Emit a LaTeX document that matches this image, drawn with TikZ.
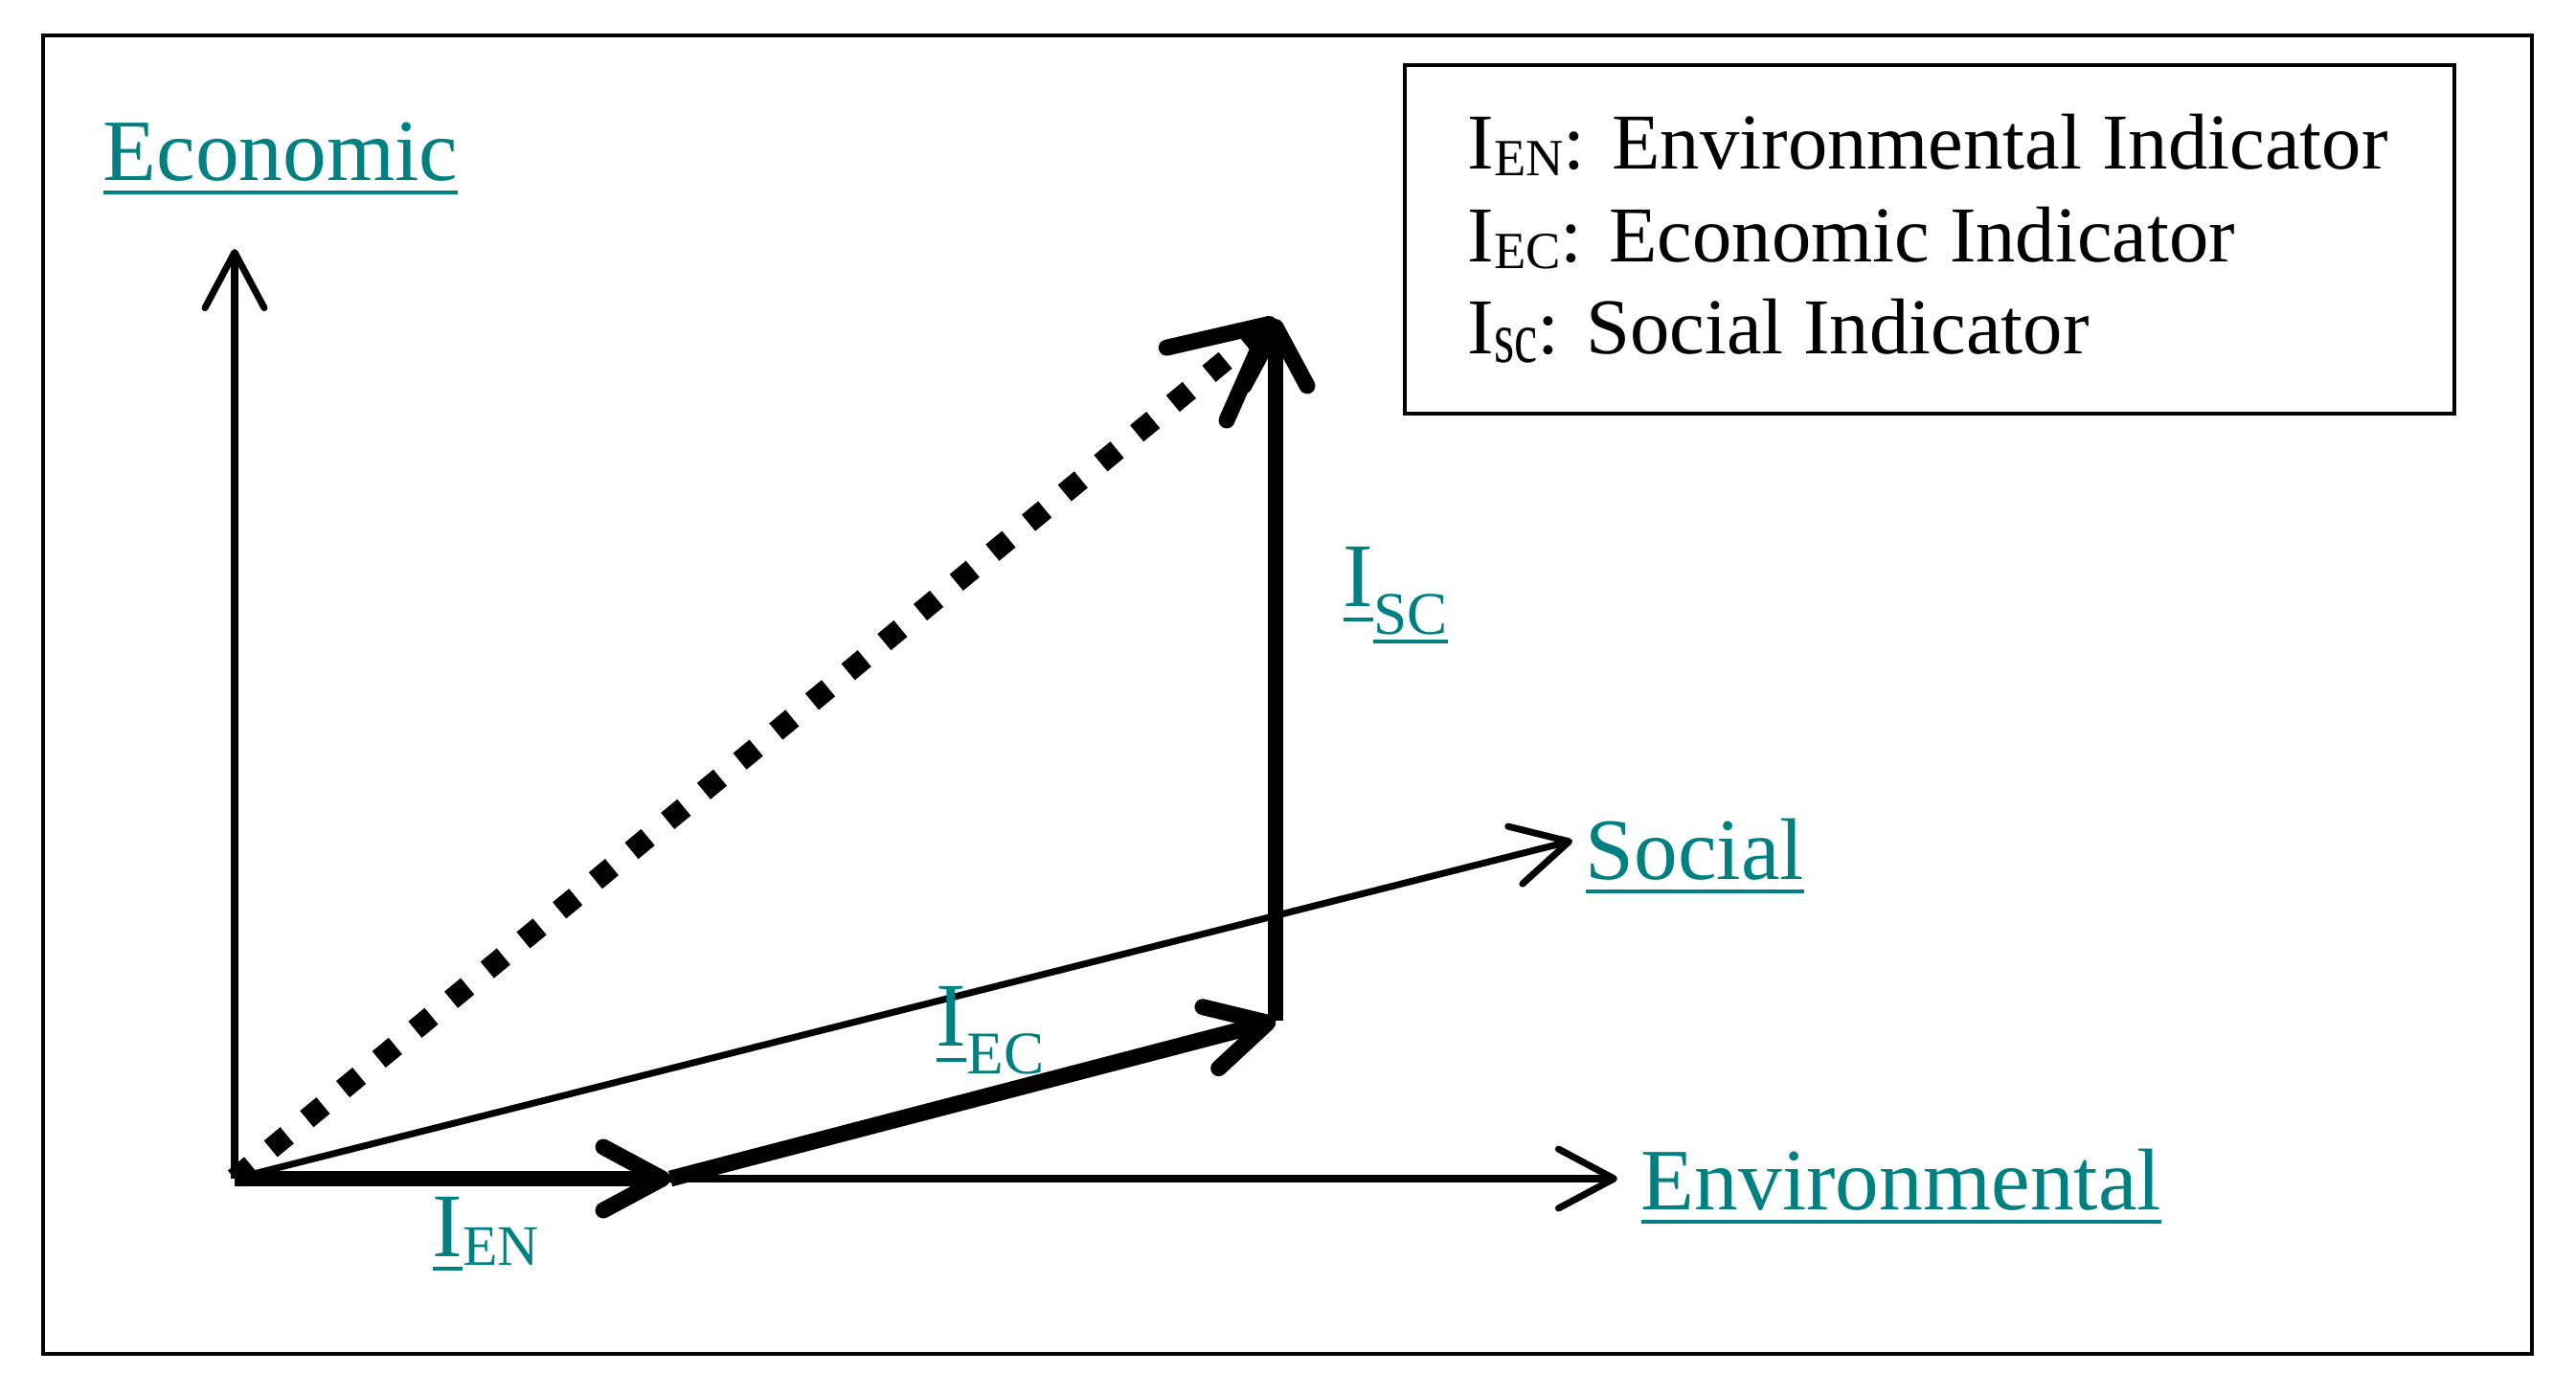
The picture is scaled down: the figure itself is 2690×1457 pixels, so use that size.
\documentclass[tikz,border=0pt]{standalone}
\usepackage{fontspec}
\setmainfont{Liberation Serif}
\usepackage{graphicx}
\usetikzlibrary{arrows.meta}

\definecolor{axisteal}{RGB}{0,128,128}
% underline with a given drop below the baseline
\newcommand{\ulbox}[2][4.3pt]{\setbox0=\hbox{#2}\rlap{\rule[-#1]{\wd0}{1.2pt}}\box0}
% lowered, smaller text for the indices
\newcommand{\subtxt}[3]{\raisebox{-#1}{\fontsize{#2}{#2}\selectfont #3}}

\begin{document}
\begin{tikzpicture}[x=0.01cm,y=-0.01cm,
	axis/.style={line width=2pt,-{Straight Barb[length=16.5pt,width=17.6pt,round]}},
	indic/.style={line width=4.8pt,-{Straight Barb[length=17.5pt,width=18.8pt,round]}},
	total/.style={line width=6.3pt,dash pattern=on 6.3pt off 7.6pt,
		-{Straight Barb[length=28pt,width=28pt,line width=4.8pt 0,round]}},
	axislbl/.style={anchor=base west,inner sep=0pt,text=axisteal,font=\fontsize{26}{30}\selectfont},
	indlbl/.style={anchor=base west,inner sep=0pt,text=axisteal,font=\fontsize{27}{30}\selectfont},
	legtxt/.style={anchor=base west,inner sep=0pt,font=\fontsize{23.5}{28}\selectfont}]
	\useasboundingbox (0,0) rectangle (2690,1457);
	\draw[line width=0.9pt] (45,37) rectangle (2644,1414);

	% axes
	\coordinate (O) at (245,1231);
	\coordinate (ecoTip) at (245,260);
	\coordinate (envTip) at (1689,1231);
	\coordinate (socTip) at (1642,878);
	\draw[axis] (O) -- (ecoTip);
	\draw[axis] (O) -- (envTip);
	\draw[axis] (O) -- (socTip);

	\node[axislbl] (lblEco) at (107,188) {\ulbox{Economic}};
	\node[axislbl] (lblSoc) at (1655,918) {\ulbox{Social}};
	\node[axislbl] (lblEnv) at (1713,1263) {\ulbox{Environmental}};

	% indicators
	\coordinate (enEnd) at (700,1231);
	\coordinate (ecEnd) at (1332,1066);
	\coordinate (scEnd) at (1332,333);
	\draw[total] (O) -- (scEnd);
	\draw[indic] (O) -- (enEnd);
	\draw[indic] (enEnd) -- (ecEnd);
	\draw[indic] (ecEnd) -- (scEnd);

	\node[indlbl] (lblEN) at (451,1312) {\ulbox{I}\subtxt{2.8pt}{17}{EN}};
	\node[indlbl] (lblEC) at (977,1092) {\ulbox[4.9pt]{I}\subtxt{8.5pt}{18}{EC}};
	\node[indlbl] (lblSC) at (1402,633) {\ulbox[4.6pt]{I}\subtxt{8.5pt}{18}{\ulbox[2.6pt]{SC}}};

	% legend
	\draw[line width=1.2pt] (1467,68) rectangle (2563,432);
	\node[legtxt] (legEN) at (1532,176) {I\subtxt{2pt}{15.5}{EN}: Environmental Indicator};
	\node[legtxt] (legEC) at (1532,273) {I\subtxt{2pt}{15.5}{EC}: Economic Indicator};
	\node[legtxt] (legSC) at (1532,369) {I\subtxt{2.8pt}{15.5}{\scalebox{1}[1.4]{sc}}: Social Indicator};
\end{tikzpicture}
\end{document}
